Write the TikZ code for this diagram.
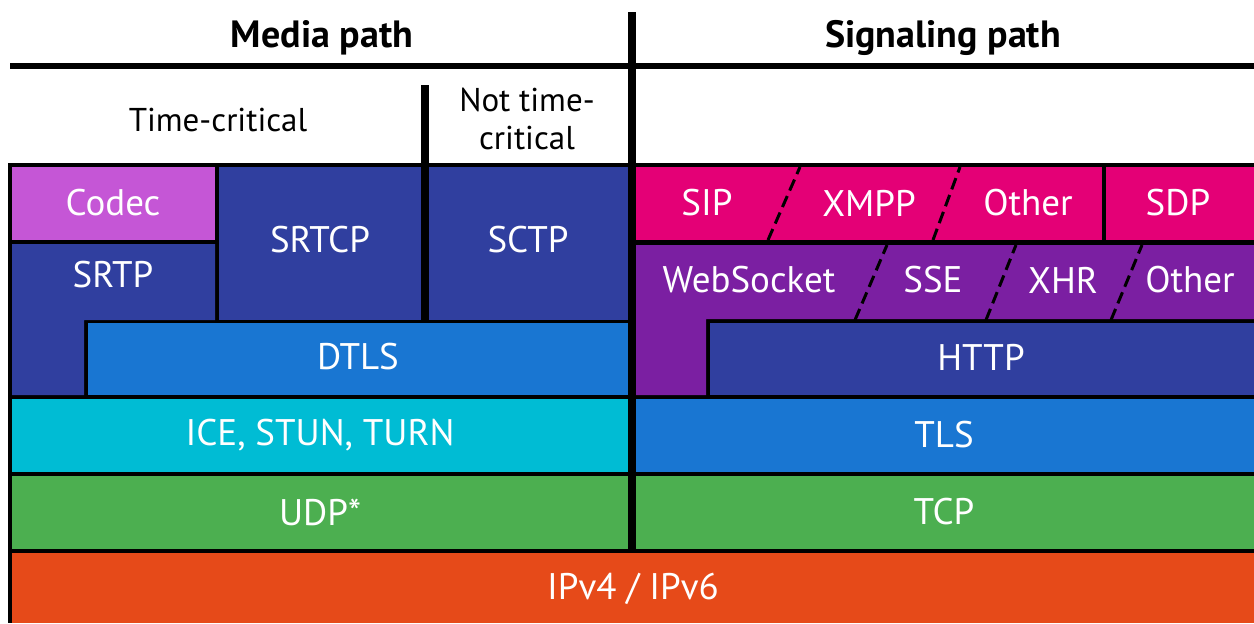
\documentclass[tikz,border=0pt]{standalone}
\usepackage{fontspec}
\setmainfont{PT Sans}

\definecolor{codecc}{RGB}{197,86,214}
\definecolor{darkblue}{RGB}{48,63,159}
\definecolor{midblue}{RGB}{25,118,210}
\definecolor{cyanc}{RGB}{0,188,212}
\definecolor{greenc}{RGB}{76,175,80}
\definecolor{orangec}{RGB}{230,74,25}
\definecolor{pinkc}{RGB}{228,0,118}
\definecolor{purplec}{RGB}{123,31,162}

\begin{document}
\begin{tikzpicture}[x=0.5pt, y=-0.5pt,
  lbl/.style={text=white, font=\fontsize{18.5}{22}\selectfont},
  head/.style={font=\fontsize{19}{22}\selectfont\bfseries},
  sub/.style={font=\fontsize{16.5}{19}\selectfont, align=center},
  slash/.style={line width=1.5pt, dash pattern=on 6pt off 3pt}]
\useasboundingbox (0,0) rectangle (1254,623);
%\draw [help lines, step=50] (0,0) grid (1254,623);

% black ground under the stack
\fill [black] (8,163) rectangle (1254,623);

% media side
\fill [codecc] (12,167) rectangle (215,240);
\fill [darkblue] (12,244) -- (215,244) -- (215,320) -- (84,320) -- (84,395) -- (12,395) -- cycle;
\fill [darkblue] (219,167) rectangle (421,320);
\fill [darkblue] (429,167) rectangle (628,320);
\fill [midblue] (88,323) rectangle (628,395);
\fill [cyanc] (12,399) rectangle (628,472);
\fill [greenc] (12,476) rectangle (628,549);

% signaling side
\fill [pinkc] (636,167) rectangle (1102,240);
\fill [pinkc] (1106,167) rectangle (1254,240);
\fill [purplec] (636,245) -- (1254,245) -- (1254,319) -- (706,319) -- (706,395) -- (636,395) -- cycle;
\fill [darkblue] (710,323) rectangle (1254,395);
\fill [midblue] (636,399) rectangle (1254,472);
\fill [greenc] (636,476) rectangle (1254,549);

\fill [orangec] (12,553) rectangle (1254,623);

% slashes
\draw [slash] (768,240) -- (800,167);
\draw [slash] (933,240) -- (960,167);
\draw [slash] (855,320) -- (887,245);
\draw [slash] (986,320) -- (1016,245);
\draw [slash] (1111,320) -- (1142,245);

% dividers
\draw [line width=3pt] (10,65.5) -- (1254,65.5);
\draw [line width=4pt] (632,12) -- (632,551);
\draw [line width=4pt] (425,85) -- (425,323);

% headings
\node [head] (media) at (322,38) {Media path};
\node [head] (signal) at (943,38) {Signaling path};
\node [sub] (tc) at (218,120) {Time-critical};
\node [sub] (ntc) at (527,119) {Not time-\\critical};

% labels
\node [lbl] (codec) at (113,203) {Codec};
\node [lbl] (srtp) at (113,275) {SRTP};
\node [lbl] (srtcp) at (320,240) {SRTCP};
\node [lbl] (sctp) at (528,240) {SCTP};
\node [lbl] (dtls) at (358,357) {DTLS};
\node [lbl] (ice) at (320,435) {ICE, STUN, TURN};
\node [lbl] (udp) at (320,512) {UDP*};
\node [lbl] (ip) at (633,589) {IPv4 / IPv6};

\node [lbl] (sip) at (707,203) {SIP};
\node [lbl] (xmpp) at (869,203) {XMPP};
\node [lbl] (other1) at (1028,203) {Other};
\node [lbl] (sdp) at (1178,203) {SDP};
\node [lbl] (ws) at (749,280) {WebSocket};
\node [lbl] (sse) at (933,280) {SSE};
\node [lbl] (xhr) at (1063,280) {XHR};
\node [lbl] (other2) at (1190,280) {Other};
\node [lbl] (http) at (981,357) {HTTP};
\node [lbl] (tls) at (944,435) {TLS};
\node [lbl] (tcp) at (944,512) {TCP};

\end{tikzpicture}
\end{document}
